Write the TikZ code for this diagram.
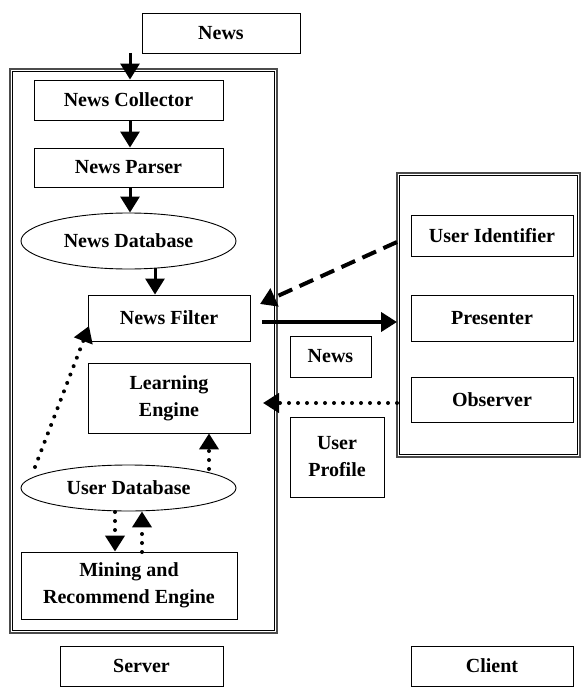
\documentclass[tikz,border=0pt]{standalone}
\usepackage{fontspec}
\setmainfont{Liberation Serif}
\usetikzlibrary{arrows.meta,shapes.geometric}
\begin{document}
\begin{tikzpicture}[x=1pt,y=-1pt,
  lbl/.style={font=\fontsize{20}{27}\selectfont\bfseries, align=center, inner sep=0pt},
  box/.style={lbl, draw, line width=0.9pt, rectangle},
  oval/.style={lbl, draw, line width=0.9pt, ellipse},
  outerline/.style={draw=black!70, line width=1.2pt},
  innerline/.style={draw=black, line width=0.7pt},
  tip/.style={-{Triangle[length=16pt,width=19pt]}},
  solidarr/.style={tip, line width=3pt},
  thickarr/.style={tip, line width=4.2pt},
  dasharr/.style={tip, line width=4pt, dash pattern=on 15pt off 8pt},
  dotarr/.style={tip, line width=4pt, line cap=round, dash pattern=on 0pt off 9pt}]
\useasboundingbox (0,0) rectangle (581,687);
% frames
\coordinate (srvtl) at (10,69);
\coordinate (srvbr) at (277,633);
\coordinate (clitl) at (397,173);
\coordinate (clibr) at (580,457);
\draw[outerline] (srvtl) rectangle (srvbr);
\draw[innerline] ([shift={(2.2,2.2)}]srvtl) rectangle ([shift={(-2.2,-2.2)}]srvbr);
\draw[outerline] (clitl) rectangle (clibr);
\draw[innerline] ([shift={(2.2,2.2)}]clitl) rectangle ([shift={(-2.2,-2.2)}]clibr);
% server side
\node[box, minimum width=158pt, minimum height=40pt] (news) at (221,33) {News};
\node[box, minimum width=189pt, minimum height=40pt] (nc) at (128.5,100) {News Collector};
\node[box, minimum width=189pt, minimum height=39pt] (np) at (128.5,167.5) {News Parser};
\node[oval, minimum width=215pt, minimum height=56pt] (ndb) at (128.5,241) {News Database};
\node[box, minimum width=162pt, minimum height=46pt] (nf) at (169,318) {News Filter};
\node[box, minimum width=162pt, minimum height=70pt] (le) at (169,398) {Learning\\Engine};
\node[oval, minimum width=215pt, minimum height=46pt] (udb) at (128.5,488) {User Database};
\node[box, minimum width=216pt, minimum height=67pt] (mre) at (129,585.5) {Mining and\\Recommend Engine};
\node[box, minimum width=163pt, minimum height=40pt] (srvl) at (141.5,666) {Server};
% client side
\node[box, minimum width=162pt, minimum height=41pt] (ui) at (492,235.5) {User Identifier};
\node[box, minimum width=162pt, minimum height=46pt] (pres) at (492,318) {Presenter};
\node[box, minimum width=162pt, minimum height=45pt] (obs) at (492,399.5) {Observer};
\node[box, minimum width=81pt, minimum height=41pt] (newss) at (330.5,356.5) {News};
\node[box, minimum width=94pt, minimum height=80pt] (up) at (337,457) {User\\Profile};
\node[box, minimum width=162pt, minimum height=40pt] (clil) at (492,666) {Client};
% connectors
\coordinate (in) at (130,53);
\draw[solidarr] (in) -- (in |- nc.north);
\draw[solidarr] (nc.south -| in) -- (np.north -| in);
\draw[solidarr] (np.south -| in) -- (ndb.north -| in);
\coordinate (a1) at (155,268);
\draw[solidarr] (a1) -- (a1 |- nf.north);
\coordinate (d1) at (clitl |- 0,242);
\coordinate (d2) at (260,304);
\draw[dasharr] (d1) -- (d2);
\coordinate (s1) at (262,322);
\draw[thickarr] (s1) -- (s1 -| clitl);
\coordinate (o1) at (clitl |- 0,403);
\coordinate (o2) at (263,403);
\draw[dotarr] (o1) -- (o2);
\coordinate (u1) at (35,467);
\coordinate (u2) at (89,326);
\draw[dotarr] (u1) -- (u2);
\coordinate (u3) at (209,469);
\draw[dotarr] (u3) -- (u3 |- le.south);
\coordinate (m1) at (115,512);
\draw[dotarr] (m1) -- (m1 |- mre.north);
\coordinate (m2) at (142,552);
\draw[dotarr] (m2) -- (m2 |- udb.south);
\end{tikzpicture}
\end{document}
